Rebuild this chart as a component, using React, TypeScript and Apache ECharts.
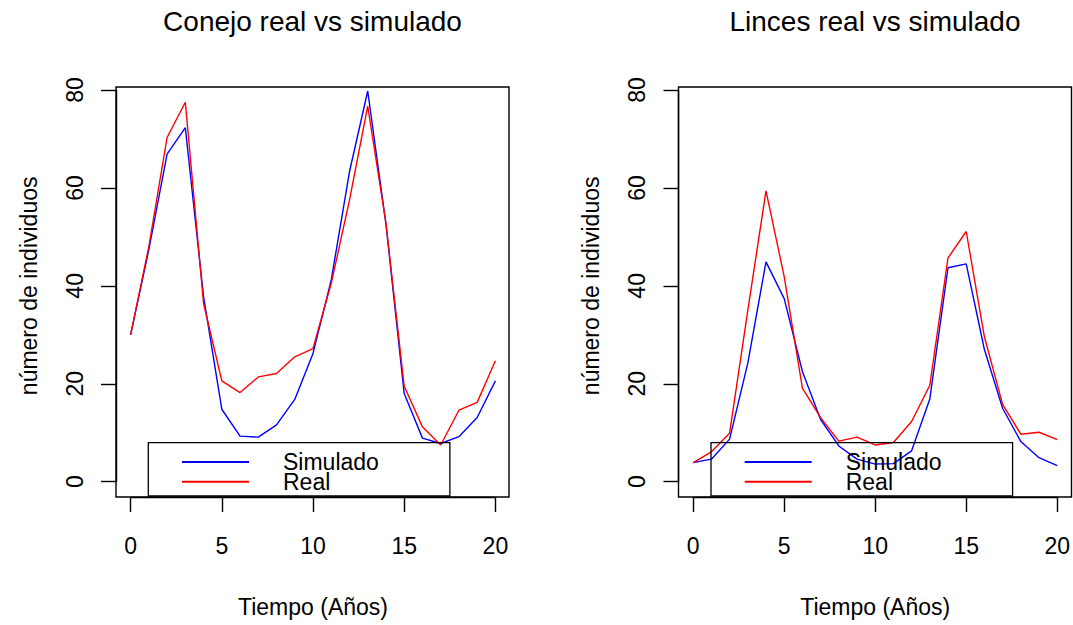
import React, { useEffect, useRef } from "react";
import * as echarts from "echarts";

const years = [0, 1, 2, 3, 4, 5, 6, 7, 8, 9, 10, 11, 12, 13, 14, 15, 16, 17, 18, 19, 20];

const conejoSimulado = [30, 47.4, 66.9, 72.3, 37.8, 14.8, 9.3, 9.1, 11.6, 16.8, 26.2, 41.2, 63.3, 79.8, 52.6, 18.0, 8.9, 7.8, 9.2, 13.1, 20.6];
const conejoReal = [30, 48.0, 70.3, 77.5, 36.4, 20.6, 18.2, 21.4, 22.1, 25.5, 27.2, 40.5, 57.5, 76.7, 52.8, 19.5, 11.2, 7.5, 14.6, 16.2, 24.7];

const lincesSimulado = [3.9, 4.6, 8.7, 24.2, 44.9, 37.4, 22.5, 12.7, 7.3, 4.6, 3.6, 3.7, 6.3, 16.9, 43.7, 44.5, 27.0, 15.0, 8.2, 4.9, 3.3];
const lincesReal = [3.9, 6.1, 9.9, 35.0, 59.4, 41.9, 19.1, 13.1, 8.3, 9.1, 7.5, 8.0, 12.3, 19.7, 45.7, 51.1, 29.6, 15.8, 9.7, 10.1, 8.6];

const titles = ["Conejo real vs simulado", "Linces real vs simulado"];
const xName = "Tiempo (Años)";
const yName = "número de individuos";
const seriesNames = ["Simulado", "Real"];

const FONT = "Liberation Sans, Arial, sans-serif";
const BLACK = "#000000";

const panels = [
  { gridLeft: 130.6, boxLeft: 116, sim: conejoSimulado, real: conejoReal, title: titles[0], legendLeft: 148.3 },
  { gridLeft: 693.2, boxLeft: 678.5, sim: lincesSimulado, real: lincesReal, title: titles[1], legendLeft: 711 },
];

const GRID_TOP = 90;
const GRID_W = 364.8;
const GRID_H = 391.7;
const BOX_TOP = 87;
const BOX_W = 393;
const BOX_H = 410;

export default function App() {
  const ref = useRef<HTMLDivElement>(null);

  useEffect(() => {
    if (!ref.current) return;
    const chart = echarts.init(ref.current, null, { renderer: "svg" });

    const lineW = 1.4;

    const option: any = {
      animation: false,
      backgroundColor: "#ffffff",
      textStyle: { fontFamily: FONT, color: BLACK },
      title: panels.map((p) => ({
        text: p.title,
        left: p.boxLeft + BOX_W / 2,
        top: 7,
        textAlign: "center",
        padding: 0,
        textStyle: { fontSize: 28, fontWeight: "normal", color: BLACK, fontFamily: FONT },
      })),
      grid: panels.map((p) => ({
        left: p.gridLeft,
        top: GRID_TOP,
        width: GRID_W,
        height: GRID_H,
        containLabel: false,
      })),
      xAxis: panels.map((p, i) => ({
        type: "value",
        gridIndex: i,
        min: 0,
        max: 20,
        interval: 5,
        offset: BOX_TOP + BOX_H - (GRID_TOP + GRID_H),
        name: xName,
        nameLocation: "middle",
        nameGap: 98,
        nameTextStyle: { fontSize: 23, color: BLACK, fontFamily: FONT },
        axisLine: { show: true, onZero: false, lineStyle: { color: BLACK, width: lineW } },
        axisTick: { show: true, length: 15, lineStyle: { color: BLACK, width: lineW } },
        axisLabel: { fontSize: 23, margin: 37, color: BLACK, fontFamily: FONT },
        splitLine: { show: false },
      })),
      yAxis: panels.map((p, i) => ({
        type: "value",
        gridIndex: i,
        min: 0,
        max: 80,
        interval: 20,
        offset: p.gridLeft - p.boxLeft,
        name: yName,
        nameLocation: "middle",
        nameRotate: 90,
        nameGap: 76,
        nameTextStyle: { fontSize: 23, color: BLACK, fontFamily: FONT },
        axisLine: { show: true, onZero: false, lineStyle: { color: BLACK, width: lineW } },
        axisTick: { show: true, length: 15, lineStyle: { color: BLACK, width: lineW } },
        axisLabel: { fontSize: 23, margin: 30, rotate: 90, color: BLACK, fontFamily: FONT },
        splitLine: { show: false },
      })),
      legend: panels.map((p) => ({
        orient: "vertical",
        left: p.legendLeft,
        top: 442.7,
        padding: [7.8, 71, 2.8, 32.7],
        itemGap: -3.3,
        itemWidth: 67,
        itemHeight: 23,
        borderColor: BLACK,
        borderWidth: 1.3,
        borderRadius: 0,
        backgroundColor: "transparent",
        selectedMode: false,
        data: seriesNames,
        itemStyle: { opacity: 0 },
        textStyle: {
          fontSize: 23,
          color: BLACK,
          fontFamily: FONT,
          padding: [0, 0, 0, 29],
        },
      })),
      series: panels.flatMap((p, i) => [
        {
          name: seriesNames[0],
          type: "line",
          xAxisIndex: i,
          yAxisIndex: i,
          symbol: "none",
          data: years.map((x, k) => [x, p.sim[k]]),
          lineStyle: { color: "#0000ff", width: lineW },
          itemStyle: { color: "#0000ff" },
          z: 3,
        },
        {
          name: seriesNames[1],
          type: "line",
          xAxisIndex: i,
          yAxisIndex: i,
          symbol: "none",
          data: years.map((x, k) => [x, p.real[k]]),
          lineStyle: { color: "#ff0000", width: lineW },
          itemStyle: { color: "#ff0000" },
          z: 3,
        },
      ]),
      graphic: panels.map((p) => ({
        type: "rect",
        shape: { x: p.boxLeft, y: BOX_TOP, width: BOX_W, height: BOX_H },
        style: { fill: "none", stroke: BLACK, lineWidth: lineW },
        silent: true,
        z: 1,
      })),
    };

    chart.setOption(option);
    return () => chart.dispose();
  }, []);

  return (
    <div
      ref={ref}
      style={{ position: "absolute", left: 0, top: 0, width: 1073, height: 625, background: "#fff" }}
    />
  );
}
